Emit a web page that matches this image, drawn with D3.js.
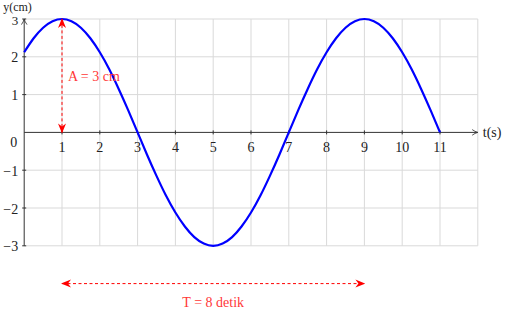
<!DOCTYPE html>
<html><head><meta charset="utf-8">
<script src="https://cdn.jsdelivr.net/npm/d3@7"></script>
<style>body{margin:0;background:#fff}svg{display:block}</style>
</head><body><svg id="c" width="505" height="309" font-family="'Liberation Serif', 'Times New Roman', 'DejaVu Serif', serif"></svg>
<script>
// data
const tValues = [0,0.25,0.5,0.75,1,1.25,1.5,1.75,2,2.25,2.5,2.75,3,3.25,3.5,3.75,4,4.25,4.5,4.75,5,5.25,5.5,5.75,6,6.25,6.5,6.75,7,7.25,7.5,7.75,8,8.25,8.5,8.75,9,9.25,9.5,9.75,10,10.25,10.5,10.75,11];
const yValues = [2.12,2.49,2.77,2.94,3,2.94,2.77,2.49,2.12,1.67,1.15,0.59,0,-0.59,-1.15,-1.67,-2.12,-2.49,-2.77,-2.94,-3,-2.94,-2.77,-2.49,-2.12,-1.67,-1.15,-0.59,0,0.59,1.15,1.67,2.12,2.49,2.77,2.94,3,2.94,2.77,2.49,2.12,1.67,1.15,0.59,0];
const xTicks = [1,2,3,4,5,6,7,8,9,10,11];
const yTicks = [-3,-2,-1,1,2,3];
const xGrid = [1,2,3,4,5,6,7,8,9,10,11,12];
const yGrid = [-3,-2,-1,1,2,3];
const amplitudeArrow = {t:1, from:0, to:3, label:"A = 3 cm"};
const periodArrow = {y:-4, from:1, to:9, label:"T = 8 detik"};

const svg = d3.select("#c");
const x = d3.scaleLinear().domain([0,12]).range([24.2,477.8]);
const y = d3.scaleLinear().domain([-3,3]).range([245.8,19]);

const defs = svg.append("defs");
defs.append("marker").attr("id","ah").attr("viewBox","0 0 10 10").attr("refX",9).attr("refY",5)
  .attr("markerWidth",10).attr("markerHeight",10).attr("markerUnits","userSpaceOnUse").attr("orient","auto-start-reverse")
  .append("path").attr("d","M0,1 L10,5 L0,9 L3,5 Z").attr("fill","#ff0000");
defs.append("marker").attr("id","axh").attr("viewBox","0 0 10 10").attr("refX",9).attr("refY",5)
  .attr("markerWidth",7).attr("markerHeight",7).attr("markerUnits","userSpaceOnUse").attr("orient","auto")
  .append("path").attr("d","M1,1 Q5,4 9,5 Q5,6 1,9").attr("fill","none").attr("stroke","#333").attr("stroke-width",1.2);

// grid
svg.append("g").selectAll("line").data(xGrid).join("line")
  .attr("x1",d=>x(d)).attr("x2",d=>x(d)).attr("y1",y(-3)).attr("y2",y(3))
  .attr("stroke","#d9d9d9").attr("stroke-width",1);
svg.append("g").selectAll("line").data(yGrid).join("line")
  .attr("x1",x(0)).attr("x2",x(12)).attr("y1",d=>y(d)).attr("y2",d=>y(d))
  .attr("stroke","#d9d9d9").attr("stroke-width",1);

// axes
svg.append("line").attr("x1",x(0)).attr("x2",x(12)).attr("y1",y(0)).attr("y2",y(0))
  .attr("stroke","#333").attr("stroke-width",1).attr("marker-end","url(#axh)");
svg.append("line").attr("x1",x(0)).attr("x2",x(0)).attr("y1",y(-3)).attr("y2",y(3))
  .attr("stroke","#333").attr("stroke-width",1).attr("marker-end","url(#axh)");

// ticks
svg.append("g").selectAll("line").data(xTicks).join("line")
  .attr("x1",d=>x(d)).attr("x2",d=>x(d)).attr("y1",y(0)-2).attr("y2",y(0)+2).attr("stroke","#333");
svg.append("g").selectAll("line").data(yTicks).join("line")
  .attr("x1",x(0)-2).attr("x2",x(0)+2).attr("y1",d=>y(d)).attr("y2",d=>y(d)).attr("stroke","#333");

const fs = 14;
svg.append("g").selectAll("text").data(xTicks).join("text")
  .attr("x",d=>x(d)).attr("y",y(0)+20).attr("text-anchor","middle").attr("font-size",fs).attr("fill","#222")
  .text(d=>d);
svg.append("g").selectAll("text").data(yTicks).join("text")
  .attr("x",x(0)-6).attr("y",d=>y(d)+5.5).attr("text-anchor","end").attr("font-size",d=>d===3?13:fs).attr("fill","#222")
  .text(d=>d<0?"\u2212"+Math.abs(d):d);
svg.append("text").attr("x",x(0)-7).attr("y",y(0)+15).attr("text-anchor","end").attr("font-size",fs).attr("fill","#222").text("0");
svg.append("text").attr("x",x(12)+5).attr("y",y(0)+5).attr("font-size",fs).attr("fill","#222").text("t(s)");
svg.append("text").attr("x",x(0)-21).attr("y",y(3)-8.2).attr("font-size",12).attr("fill","#222").text("y(cm)");

// curve
const pts = tValues.map((t,i)=>[t,yValues[i]]);
svg.append("path").datum(pts)
  .attr("d",d3.line().x(d=>x(d[0])).y(d=>y(d[1])).curve(d3.curveNatural))
  .attr("fill","none").attr("stroke","#0000ff").attr("stroke-width",2.2);

// annotations
svg.append("line").attr("x1",x(amplitudeArrow.t)).attr("x2",x(amplitudeArrow.t))
  .attr("y1",y(amplitudeArrow.from)).attr("y2",y(amplitudeArrow.to))
  .attr("stroke","#ff0000").attr("stroke-width",1).attr("stroke-dasharray","3,2.5")
  .attr("marker-start","url(#ah)").attr("marker-end","url(#ah)");
svg.append("text").attr("x",x(amplitudeArrow.t)+6).attr("y",y(1.5)+5).attr("font-size",fs).attr("fill","#ff3838")
  .text(amplitudeArrow.label);
svg.append("line").attr("x1",x(periodArrow.from)).attr("x2",x(periodArrow.to))
  .attr("y1",y(periodArrow.y)).attr("y2",y(periodArrow.y))
  .attr("stroke","#ff0000").attr("stroke-width",1).attr("stroke-dasharray","3,2.5")
  .attr("marker-start","url(#ah)").attr("marker-end","url(#ah)");
svg.append("text").attr("x",x((periodArrow.from+periodArrow.to)/2)).attr("y",y(periodArrow.y)+23)
  .attr("text-anchor","middle").attr("font-size",fs).attr("fill","#ff3838").text(periodArrow.label);
</script></body></html>
